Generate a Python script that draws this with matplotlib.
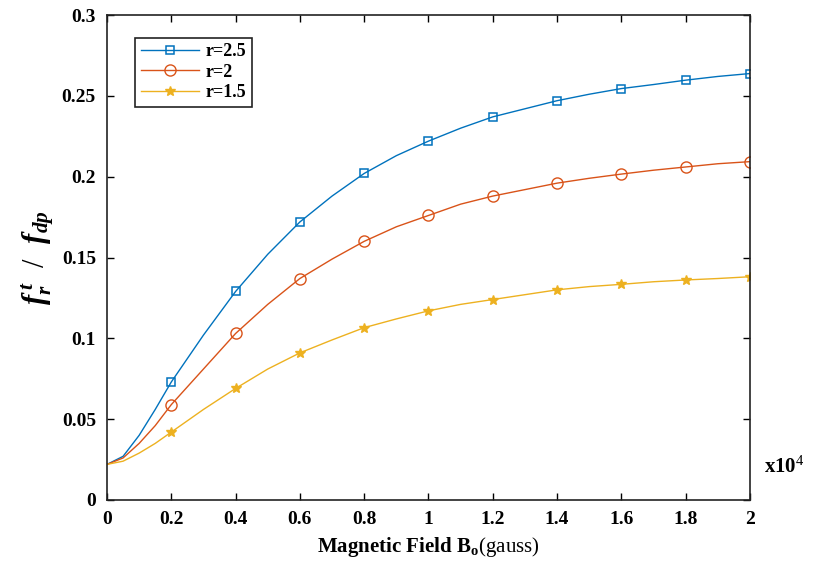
import numpy as np
import matplotlib.pyplot as plt

plt.rcParams['font.family'] = ['Liberation Serif', 'DejaVu Serif']
plt.rcParams['mathtext.fontset'] = 'custom'
plt.rcParams['mathtext.rm'] = 'Liberation Serif'
plt.rcParams['mathtext.it'] = 'Liberation Serif:italic:bold'
plt.rcParams['mathtext.bf'] = 'Liberation Serif:bold'

# magnetic field (x 10^4 gauss)
field = [0.0, 0.05, 0.1, 0.15, 0.2, 0.3, 0.4, 0.5, 0.6, 0.7, 0.8, 0.9, 1.0,
         1.1, 1.2, 1.3, 1.4, 1.5, 1.6, 1.7, 1.8, 1.9, 2.0]
r25 = [0.022, 0.027, 0.040, 0.056, 0.073, 0.102, 0.129, 0.152, 0.172, 0.188, 0.202, 0.213, 0.222,
       0.230, 0.237, 0.242, 0.247, 0.251, 0.2545, 0.257, 0.2597, 0.262, 0.2638]
r2 = [0.022, 0.026, 0.035, 0.046, 0.059, 0.081, 0.103, 0.121, 0.137, 0.149, 0.160, 0.169, 0.176,
      0.183, 0.188, 0.192, 0.196, 0.199, 0.2016, 0.204, 0.206, 0.208, 0.2093]
r15 = [0.022, 0.024, 0.029, 0.035, 0.042, 0.056, 0.069, 0.081, 0.091, 0.099, 0.1066, 0.112, 0.117,
       0.121, 0.124, 0.127, 0.130, 0.132, 0.1334, 0.135, 0.1361, 0.137, 0.1381]

xticks = [0, 0.2, 0.4, 0.6, 0.8, 1, 1.2, 1.4, 1.6, 1.8, 2]
xticklabels = ['0', '0.2', '0.4', '0.6', '0.8', '1', '1.2', '1.4', '1.6', '1.8', '2']
yticks = [0, 0.05, 0.1, 0.15, 0.2, 0.25, 0.3]
yticklabels = ['0', '0.05', '0.1', '0.15', '0.2', '0.25', '0.3']

fig = plt.figure(figsize=(8.15, 5.69), dpi=100)
ax = fig.add_axes([0.1313, 0.1213, 0.7889, 0.8523])

# markers only at the 0.2 steps
every = [i for i, f in enumerate(field) if f > 0 and abs(f * 5 - round(f * 5)) < 1e-9]
ax.plot(field, r25, color='#0072BD', lw=1.0, marker='s', ms=6, mfc='none',
        mew=1.1, markevery=every, label='r=2.5')
ax.plot(field, r2, color='#D95319', lw=1.0, marker='o', ms=8, mfc='none',
        mew=1.0, markevery=every, label='r=2')
ax.plot(field, r15, color='#EDB120', lw=1.0, marker='*', ms=7,
        mew=1.0, markevery=every, label='r=1.5')

ax.set_xlim(0, 2)
ax.set_ylim(0, 0.3)
ax.set_xticks(xticks)
ax.set_xticklabels(xticklabels)
ax.set_yticks(yticks)
ax.set_yticklabels(yticklabels)
ax.tick_params(direction='in', top=True, right=True, length=5, width=1,
               labelsize=14, pad=8)
for lab in ax.get_xticklabels() + ax.get_yticklabels():
    lab.set_fontweight('bold')
for sp in ax.spines.values():
    sp.set_linewidth(1.2)
    sp.set_color('#222222')

ax.set_xlabel(r'$\mathbf{Magnetic\ Field\ B_o}$(gauss)', fontsize=15, labelpad=5)
ax.set_ylabel(r'$f_r^{\,t}\ \ /\ \ f_{dp}$', fontsize=22, labelpad=4)
ax.text(1.022, 0.068, r'x10$^4$', transform=ax.transAxes, fontsize=15,
        fontweight='bold', va='center', ha='left')

leg = ax.legend(loc='upper left', bbox_to_anchor=(0.03, 0.972), fancybox=False,
                edgecolor='#222222', framealpha=1, borderpad=0.3,
                handlelength=3.2, labelspacing=0.2, handletextpad=0.4,
                prop={'weight': 'bold', 'size': 13})
leg.get_frame().set_linewidth(1.2)

fig.savefig('out.png', dpi=100)
